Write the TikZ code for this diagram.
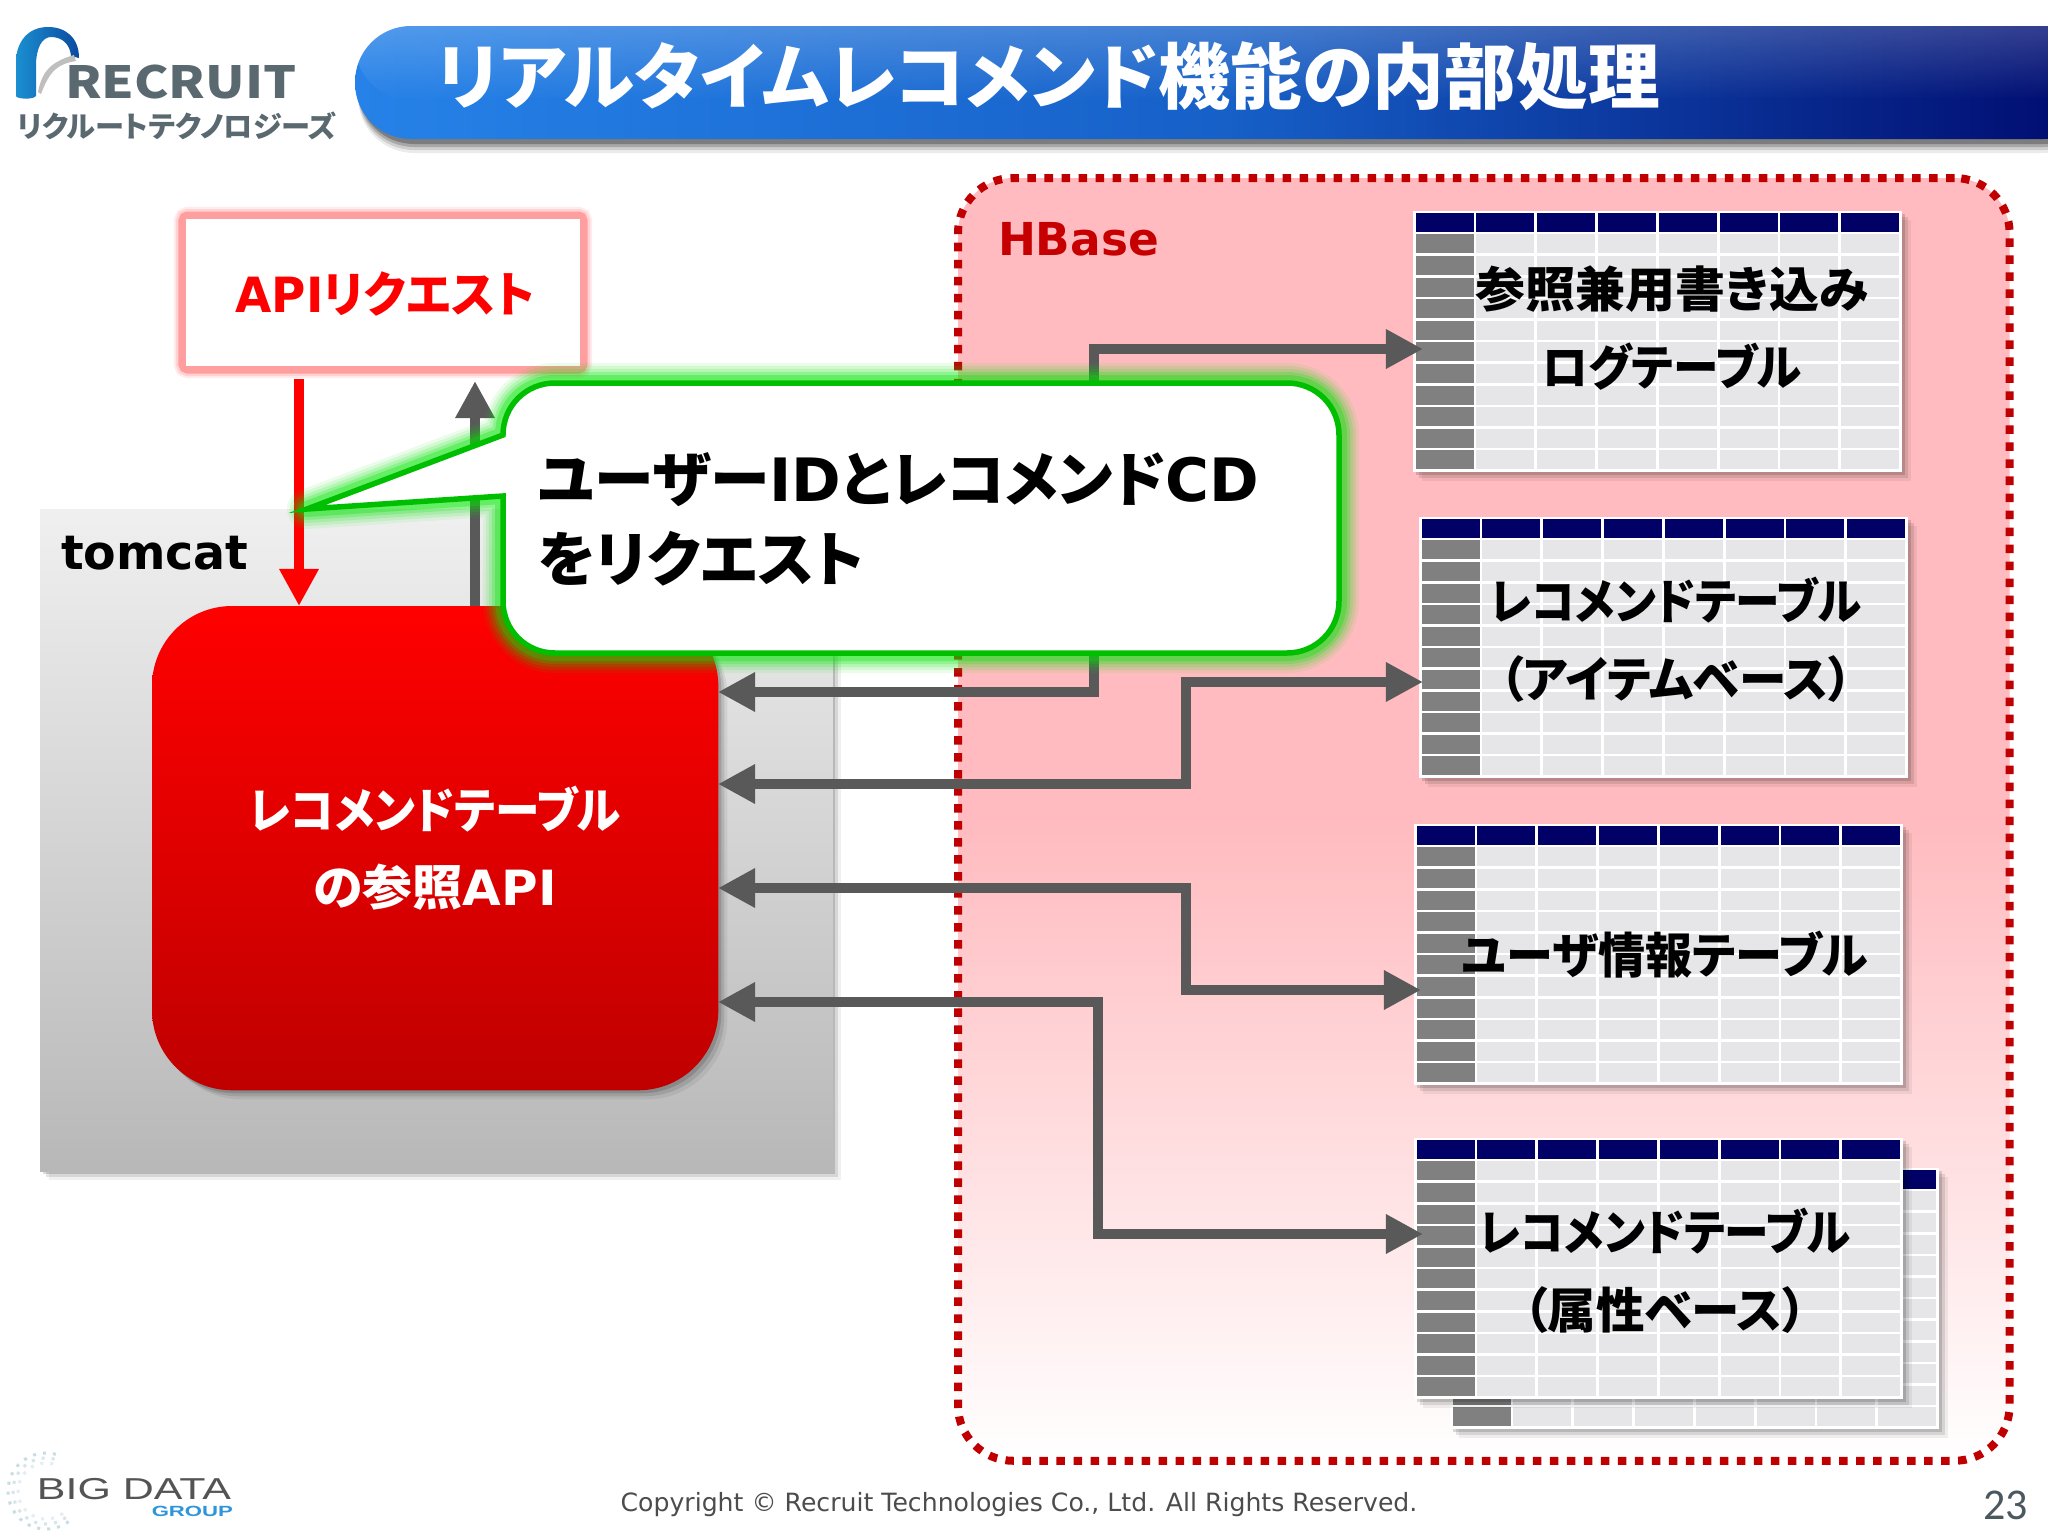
\documentclass[tikz,border=0pt]{standalone}
\usepackage{fontspec}
\setmainfont[RawFeature=+palt]{Noto Sans CJK JP}
\newfontfamily\verdanalike{DejaVu Sans}
\newfontfamily\calibrilike{Carlito}
\newfontfamily\widelogo{Liberation Sans}
\usetikzlibrary{positioning, arrows.meta, shadows, fadings, calc}
\definecolor{hbasepink}{HTML}{FFBBBF}
\definecolor{linkgray}{HTML}{595959}
\definecolor{logogray}{HTML}{5A6870}
\definecolor{dotred}{HTML}{C00000}
\definecolor{navycell}{HTML}{000066}
\definecolor{graycell}{HTML}{E6E6E8}
\definecolor{sidecell}{HTML}{808080}
\tikzset{x=0.01cm, y=-0.01cm, >={Triangle[length=.37cm,width=.37cm]}, outer sep=0pt,
    softshadow/.style={drop shadow={shadow xshift=.09cm,shadow yshift=-.09cm,opacity=.06,fill=black},
        drop shadow={shadow xshift=.06cm,shadow yshift=-.06cm,opacity=.1,fill=black},
        drop shadow={shadow xshift=.03cm,shadow yshift=-.03cm,opacity=.14,fill=black}},
    tablebox/.style={rectangle, fill=white, inner sep=0pt, minimum width=4.89cm, minimum height=2.61cm, anchor=north west, softshadow},
    tablelabel/.style={align=center, font=\fontsize{13.8pt}{22.1pt}\selectfont\bfseries, text=black, inner sep=0pt},
    linkline/.style={draw=linkgray, line width=.105cm, <->},
    oneway/.style={line width=.105cm, ->}}
\newcommand{\squeezed}[2]{\scalebox{#1}[1]{#2}}
\newcommand{\recotable}[3]{
    \node[tablebox] (#1) at (#2,#3) {};
    \begin{scope}[shift={(#2,#3)}]
        \foreach \col in {0,...,7} {
            \fill[navycell] ({2.5+\col*60.8},2) rectangle ++(58,19);
            \foreach \row in {0,...,10} {
                \ifnum\col=0 \fill[sidecell] (2.5,{23.3+\row*21.6}) rectangle ++(58,19);
                \else \fill[graycell] ({2.5+\col*60.8},{23.3+\row*21.6}) rectangle ++(58,19); \fi
            }
        }
    \end{scope}
}
\begin{document}
\begin{tikzpicture}
    \path[use as bounding box, fill=white] (0,0) rectangle (2048,1536);

    \foreach \barshift/\barop in {14/.08, 11/.12, 8/.18, 5/.25}
        \fill[black, opacity=\barop, rounded corners=.56cm] (358,{26+\barshift}) rectangle (2100,{139+\barshift});
    \path[left color={rgb,255:red,38;green,130;blue,232}, right color={rgb,255:red,0;green,10;blue,110}, middle color={rgb,255:red,22;green,96;blue,200}, rounded corners=.56cm] (355,26) rectangle (2100,139);
    \fill[white, opacity=.2, path fading=south, rounded corners=.56cm] (355,26) rectangle (2100,100);
    \node[anchor=west, text=white, font=\fontsize{20.4pt}{22pt}\selectfont\bfseries, inner sep=0pt] (slidetitle) at (437,76) {リアルタイムレコメンド機能の内部処理};

    \path[left color={rgb,255:red,27;green,143;blue,208}, right color={rgb,255:red,10;green,74;blue,160}] (16,96) .. controls (16,99) and (33,100) .. (36,96) -- (36,66) .. controls (36,48) and (42,37) .. (51,37) .. controls (62,37) and (70,44) .. (71,56) -- (79,58) .. controls (79,38) and (66,27) .. (48,27) .. controls (28,27) and (16,42) .. (16,62) -- cycle;
    \fill[gray!50] (38,92) .. controls (42,72) and (50,62) .. (74,55) -- (76,61) .. controls (58,64) and (50,70) .. (41,94) -- cycle;
    \node[anchor=west, text=logogray, font=\fontsize{12.6pt}{14pt}\selectfont\bfseries, inner sep=0pt] (recruitword) at (65,82) {\squeezed{1.17}{RECRUIT}};
    \node[anchor=west, text=logogray, font=\fontsize{8.3pt}{9pt}\selectfont\bfseries, inner sep=0pt] (recruitkana) at (17,126) {リクルートテクノロジーズ};

    \foreach \ringr/\ringop in {38/.6, 33/.45, 28/.3}
        \draw[cyan!40!gray!60, dotted, line width=.03cm, opacity=\ringop] (46,1491) ++(75:\ringr*.01cm) arc[start angle=75, end angle=310, radius=\ringr*.01cm];
    \node[anchor=west, text=black!67, font=\widelogo\fontsize{8.6pt}{10pt}\selectfont, inner sep=0pt] (bigdataword) at (37,1489) {\squeezed{1.42}{BIG DATA}};
    \node[anchor=east, text=cyan!70!blue!85, font=\widelogo\fontsize{4.2pt}{5pt}\selectfont\bfseries, inner sep=0pt] (groupword) at (233,1511) {\squeezed{1.5}{GROUP}};
    \node[text=black!70, font=\verdanalike\fontsize{7.15pt}{9pt}\selectfont, inner sep=0pt] (copyright) at (1019,1505) {Copyright © Recruit Technologies Co., Ltd. All Rights Reserved.};
    \node[anchor=east, text=logogray!85!black, font=\calibrilike\fontsize{12.5pt}{13pt}\selectfont, inner sep=0pt] (pagenumber) at (2028,1505) {23};

    \node[draw=dotred, line width=.08cm, dash pattern=on .085cm off .085cm, top color=hbasepink, bottom color=white, middle color=hbasepink, rounded corners=.55cm, minimum width=10.51cm, minimum height=12.82cm, inner sep=0pt, anchor=north west] (hbase) at (958,178) {};
    \node[anchor=west, text=dotred!90!red, font=\verdanalike\fontsize{12.9pt}{15pt}\selectfont\bfseries, inner sep=0pt] (hbaselabel) at (998,239) {HBase};

    \node[top color=black!6, bottom color=black!28, softshadow, minimum width=7.92cm, minimum height=6.62cm, inner sep=0pt, anchor=north west] (tomcat) at (40,509) {};
    \node[anchor=west, text=black, font=\verdanalike\fontsize{13.5pt}{15pt}\selectfont\bfseries, inner sep=0pt] (tomcatlabel) at (61,553) {tomcat};

    \recotable{tblshare}{1413}{211}
    \node[tablelabel] (tblsharetext) at (1672,328) {\squeezed{1.03}{参照兼用書き込み}\\\squeezed{.94}{ログテーブル}};
    \recotable{tblitem}{1419}{517}
    \node[tablelabel] (tblitemtext) at (1676,640) {\squeezed{.92}{レコメンドテーブル}\\\squeezed{.98}{（アイテムベース）}};
    \recotable{tbluser}{1414}{824}
    \node[tablelabel] (tblusertext) at (1665,955) {\squeezed{.97}{ユーザ情報テーブル}};
    \recotable{tblattrback}{1450}{1168}
    \recotable{tblattr}{1414}{1138}
    \node[tablelabel] (tblattrtext) at (1665,1271) {\squeezed{.92}{レコメンドテーブル}\\（属性ベース）};

    \foreach \glowwd/\glowop in {.24/.2, .2/.3, .15/1}
        \draw[red!38, line width=\glowwd cm, opacity=\glowop, rounded corners=.02cm] (186,219) rectangle (580,366);
    \node[rectangle, fill=white, minimum width=3.94cm, minimum height=1.47cm, inner sep=0pt, anchor=north west] (apirequest) at (186,219) {};
    \node[text=red, font=\fontsize{13.8pt}{14pt}\selectfont\bfseries, inner sep=0pt] (apirequesttext) at (385,294) {\squeezed{.966}{{\verdanalike API}リクエスト}};

    \node[top color=red, bottom color=red!75!black, rounded corners=.8cm, softshadow, minimum width=5.66cm, minimum height=4.84cm, inner sep=0pt, anchor=north west, align=center, text=white, font=\fontsize{13.8pt}{22.1pt}\selectfont\bfseries] (refapi) at (152,606) {\squeezed{.92}{レコメンドテーブル}\\\squeezed{1.03}{の参照{\verdanalike API}}};

    \coordinate (reqdown) at (299,379);
    \coordinate (respup) at (475,381);
    \draw[oneway, red] (reqdown) -- (reqdown |- refapi.north);
    \draw[oneway, linkgray] (respup |- refapi.north) -- (respup);

    \coordinate (sharein) at (1423,349);
    \coordinate (iteminn) at (1423,682);
    \coordinate (userin) at (1421,990);
    \coordinate (attrin) at (1423,1234);
    \coordinate (shareout) at (718,692);
    \coordinate (itemout) at (718,784);
    \coordinate (userout) at (718,888);
    \coordinate (attrout) at (718,1002);
    \draw[linkline] (shareout) -| (1094,349) -- (sharein);
    \draw[linkline] (itemout) -| (1186,682) -- (iteminn);
    \draw[linkline] (userout) -| (1186,990) -- (userin);
    \draw[linkline] (attrout) -| (1098,1234) -- (attrin);

    \def\bubblepath{(503,435) -- (307,509) -- (503,496) -- (503,601) .. controls (503,630) and (526,653) .. (555,653) -- (1287,653) .. controls (1316,653) and (1339,630) .. (1339,601) -- (1339,435) .. controls (1339,406) and (1316,383) .. (1287,383) -- (555,383) .. controls (526,383) and (503,406) .. (503,435) -- cycle}
    \foreach \glowwd/\glowop in {.4/.08, .34/.1, .28/.14, .22/.2, .16/.3}
        \draw[green!90!black, line width=\glowwd cm, opacity=\glowop, line join=round] \bubblepath;
    \draw[fill=white, draw=green!75!black, line width=.055cm, line join=miter] \bubblepath;
    \node[anchor=west, align=left, text=black, font=\fontsize{17pt}{22.7pt}\selectfont\bfseries, inner sep=0pt] (bubbletext) at (538,519) {ユーザー{\verdanalike ID}とレコメンド{\verdanalike CD}\\をリクエスト};
\end{tikzpicture}
\end{document}
